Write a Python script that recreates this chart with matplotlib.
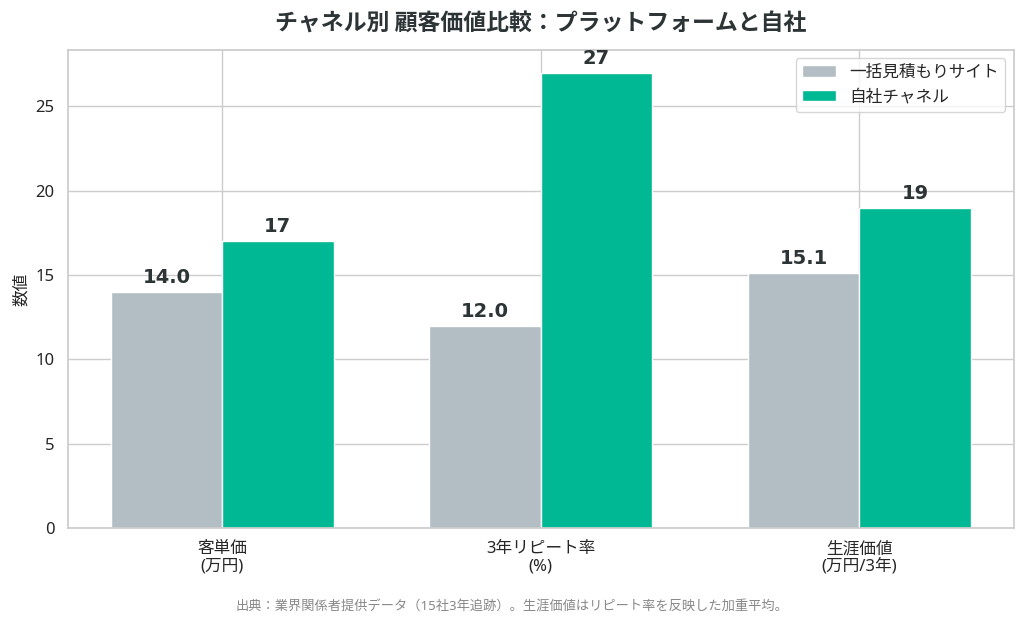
import matplotlib
matplotlib.use("Agg")
import matplotlib.pyplot as plt
import numpy as np
import seaborn as sns

categories = ["客単価\n(万円)", "3年リピート率\n(%)", "生涯価値\n(万円/3年)"]
platform_vals = [14.0, 12.0, 15.1]
own_vals = [17, 27, 19]
series_names = ["一括見積もりサイト", "自社チャネル"]
title = "チャネル別 顧客価値比較：プラットフォームと自社"
ylabel = "数値"
source = "出典：業界関係者提供データ（15社3年追跡）。生涯価値はリピート率を反映した加重平均。"

sns.set_theme(style="whitegrid")
plt.rcParams["font.family"] = ["Noto Sans", "Noto Sans CJK JP", "DejaVu Sans"]

gray, green = "#b2bec3", "#00b894"
fig, ax = plt.subplots(figsize=(10.24, 6.24), dpi=100)
fig.subplots_adjust(left=0.066, right=0.99, top=0.92, bottom=0.154)

x = np.arange(len(categories))
w = 0.35
b1 = ax.bar(x - w / 2, platform_vals, w, color=gray, edgecolor="white", linewidth=1, label=series_names[0], zorder=2)
b2 = ax.bar(x + w / 2, own_vals, w, color=green, edgecolor="white", linewidth=1, label=series_names[1], zorder=2)

lbl = dict(ha="center", va="bottom", fontsize=14, fontweight="bold", color="#2d3436",
           family=["DejaVu Sans"])
for r, v in zip(b1, platform_vals):
    ax.text(r.get_x() + r.get_width() / 2, v + 0.3, f"{v:.1f}", **lbl)
for r, v in zip(b2, own_vals):
    ax.text(r.get_x() + r.get_width() / 2, v + 0.3, f"{v}", **lbl)

ax.set_ylim(0, 28.35)
ax.set_xticks(x)
ax.set_xticklabels(categories, fontsize=12, linespacing=1.1)
ax.tick_params(axis="y", labelsize=12)
ax.set_ylabel(ylabel, fontsize=12)
ax.set_title(title, fontsize=16.5, fontweight="bold", pad=14, color="#2d3436",
             family=["Noto Sans CJK JP"])
for s in ax.spines.values():
    s.set_color("#cccccc")
ax.legend(loc="upper right", fontsize=12, frameon=True)
fig.text(0.5, 0.016, source, ha="center", va="bottom", fontsize=9.5, color="#888888")

fig.savefig("out.png", dpi=100)
